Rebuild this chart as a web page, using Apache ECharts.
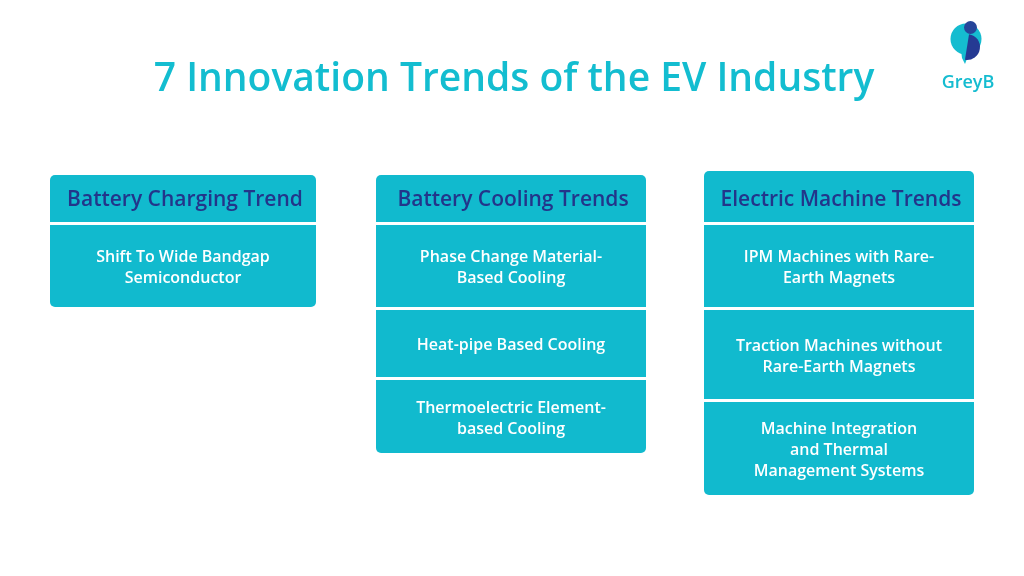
<!DOCTYPE html>
<html><head><meta charset="utf-8">
<script src="https://cdn.jsdelivr.net/npm/echarts@6/dist/echarts.min.js"></script>
<style>html,body{margin:0;padding:0;background:#fff}#c{width:1024px;height:576px}</style>
</head><body><div id="c"></div>
<script>
// ---- data ----
const chartTitle = '7 Innovation Trends of the EV Industry';
const brandName = 'GreyB';
const columnTitles = ['Battery Charging Trend', 'Battery Cooling Trends', 'Electric Machine Trends'];
const chargingTrends = ['Shift To Wide Bandgap\nSemiconductor'];
const coolingTrends = ['Phase Change Material-\nBased Cooling', 'Heat-pipe Based Cooling', 'Thermoelectric Element-\nbased Cooling'];
const machineTrends = ['IPM Machines with Rare-\nEarth Magnets', 'Traction Machines without\nRare-Earth Magnets', 'Machine Integration\nand Thermal\nManagement Systems'];
const columnItems = [chargingTrends, coolingTrends, machineTrends];

// ---- layout / style ----
const FONT = '"Open Sans", "Noto Sans", sans-serif';
const TEAL = '#11BACE';
const NAVY = '#23358A';
const headerTops = [175, 175, 171];
const headerBottom = 222;
const headerTextY = 200;
const cellHeights = [[82], [82, 67, 73], [82, 89, 93]];
const boxWidths = [266, 270, 270];
const GAP = 3;

const cells = [];
columnTitles.forEach((t, c) => {
  cells.push({ value: [c, -1], name: t });
  columnItems[c].forEach((txt, r) => cells.push({ value: [c, r], name: txt }));
});

function renderItem(params, api) {
  const c = api.value(0), r = api.value(1);
  const cx = api.coord([c, 0])[0];
  const w = boxWidths[c];
  let y0, y1;
  const n = columnItems[c].length;
  if (r < 0) { y0 = headerTops[c]; y1 = headerBottom; }
  else {
    y0 = headerBottom + GAP;
    for (let i = 0; i < r; i++) y0 += cellHeights[c][i] + GAP;
    y1 = y0 + cellHeights[c][r];
  }
  const p0 = api.coord([c, y0])[1], p1 = api.coord([c, y1])[1];
  const radius = r < 0 ? [5, 5, 0, 0] : (r === n - 1 ? [0, 0, 5, 5] : 0);
  const isHeader = r < 0;
  const label = isHeader ? columnTitles[c] : columnItems[c][r];
  const ty = isHeader ? api.coord([c, headerTextY])[1] : (p0 + p1) / 2 + 2;
  return {
    type: 'group',
    children: [
      { type: 'rect', shape: { x: cx - w / 2, y: p0, width: w, height: p1 - p0, r: radius },
        style: { fill: TEAL } },
      { type: 'text', style: {
          text: label, x: cx + (isHeader ? 2 : 0), y: ty,
          align: 'center', verticalAlign: 'middle',
          fill: isHeader ? NAVY : '#ffffff',
          fontFamily: FONT, fontWeight: 600,
          fontSize: isHeader ? 21 : 16, lineHeight: 21 } }
    ]
  };
}

const chart = echarts.init(document.getElementById('c'), null, { renderer: 'canvas' });
chart.setOption({
  backgroundColor: '#ffffff',
  animation: false,
  title: {
    text: chartTitle, left: 509, top: 55, textAlign: 'center',
    textStyle: { color: '#13BDD0', fontSize: 39, fontWeight: 600, fontFamily: FONT }
  },
  grid: { left: 19, right: 21, top: 0, bottom: 0 },
  xAxis: { type: 'category', data: columnTitles, show: false },
  yAxis: { type: 'value', inverse: true, min: 0, max: 576, show: false },
  series: [{ type: 'custom', renderItem: renderItem, data: cells, clip: false }],
  graphic: [
    { type: 'circle', shape: { cx: 966, cy: 39, r: 15.5 }, style: { fill: '#15BCD0' } },
    { type: 'circle', shape: { cx: 970.5, cy: 27.5, r: 6.5 }, style: { fill: '#26459A' } },
    { type: 'polygon', shape: { points: [[961, 50], [970, 51], [965, 64], [962, 58]] }, style: { fill: '#15BCD0' } },
    { type: 'sector', shape: { cx: 967, cy: 47, r0: 0, r: 13, startAngle: -Math.PI * 0.45, endAngle: Math.PI * 0.55 },
      style: { fill: '#253A93' } },
    { type: 'text', style: { text: brandName, x: 968, y: 83, align: 'center', verticalAlign: 'middle',
        fill: '#15BCD0', fontSize: 18, fontWeight: 600, fontFamily: FONT } }
  ]
});
</script></body></html>
